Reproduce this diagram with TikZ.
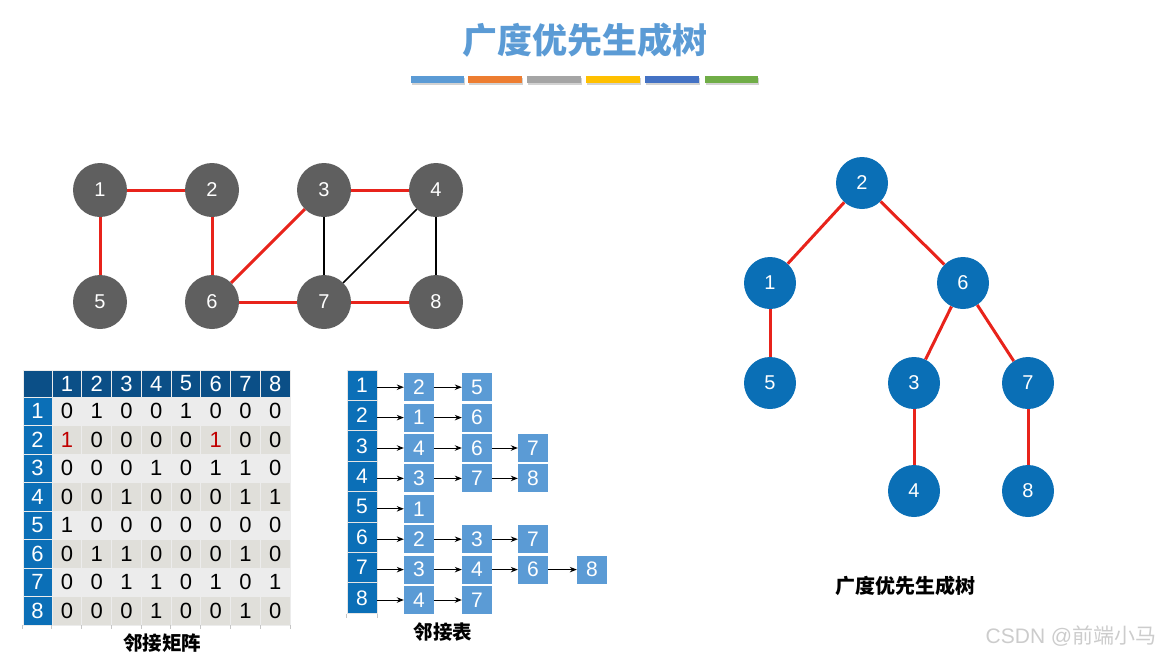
\documentclass[tikz,border=0pt]{standalone}
\usepackage{fontspec}
\setmainfont{Liberation Sans}
\newfontfamily\cjk{Noto Sans CJK SC}
\usetikzlibrary{arrows.meta,positioning}
\definecolor{gnode}{HTML}{5F5F5F}
\definecolor{tnode}{HTML}{0A6FB6}
\definecolor{redge}{HTML}{E8231B}
\definecolor{titleblue}{HTML}{5B9BD5}
\definecolor{hdrblue}{HTML}{0B4F87}
\definecolor{colblue}{HTML}{0B6FB7}
\definecolor{listblue}{HTML}{5B9BD5}
\definecolor{rowa}{HTML}{ECECEC}
\definecolor{rowb}{HTML}{E0DFDA}
\definecolor{hlred}{HTML}{C00000}
\newcommand\hl[1]{\textcolor{hlred}{#1}}

\begin{document}
\begin{tikzpicture}[x=1pt,y=-1pt,
  gv/.style={circle,fill=gnode,text=white,minimum size=54pt,inner sep=0pt,
             font=\fontsize{20}{20}\selectfont},
  tv/.style={circle,fill=tnode,text=white,minimum size=52pt,inner sep=0pt,
             font=\fontsize{20}{20}\selectfont},
  redline/.style={draw=redge,line width=3pt},
  blkline/.style={draw=black,line width=1.5pt},
  cell/.style={draw=white!85!gray,line width=0.8pt,minimum width=29.75pt,
               minimum height=28.5pt,inner sep=0pt,font=\fontsize{22}{22}\selectfont},
  hcell/.style={cell,fill=hdrblue,text=white,minimum height=27pt},
  lcell/.style={cell,fill=colblue,text=white,minimum width=29pt},
  headbox/.style={draw=white!80!gray,line width=0.8pt,fill=colblue,text=white,
               minimum width=30pt,minimum height=30.4pt,inner sep=0pt,
               font=\fontsize{21}{21}\selectfont},
  itembox/.style={fill=listblue,text=white,minimum width=30pt,minimum height=28pt,
               inner sep=0pt,font=\fontsize{21}{21}\selectfont},
  arr/.style={-{Stealth[length=7pt,width=5.5pt]},line width=1pt,black},
  tick/.style={draw=gray!45,line width=0.6pt},
  caption/.style={font=\cjk\bfseries\fontsize{19.5}{19.5}\selectfont}]
\useasboundingbox (0,0) rectangle (1162,656);

% title and colour bars
\node[font=\cjk\bfseries\fontsize{35}{35}\selectfont,text=titleblue] (title) at (585,40) {广度优先生成树};
\foreach \xa/\xb/\col in {411/464/5B9BD5,468/522/ED7D31,527/581/A5A5A5,
                          586/640/FFC000,645/699/4472C4,705/758/70AD47}{
  \fill[gray!35] (\xa+1,78) rectangle (\xb+1,85);
  \definecolor{barcol}{HTML}{\col}
  \fill[barcol] (\xa,76) rectangle (\xb,83);
}

% graph
\node[gv] (g1) at (100,190) {1};
\node[gv] (g2) at (212,190) {2};
\node[gv] (g3) at (324,190) {3};
\node[gv] (g4) at (436,190) {4};
\node[gv] (g5) at (100,302) {5};
\node[gv] (g6) at (212,302) {6};
\node[gv] (g7) at (324,302) {7};
\node[gv] (g8) at (436,302) {8};
\draw[redline] (g1)--(g2);
\draw[redline] (g1)--(g5);
\draw[redline] (g2)--(g6);
\draw[redline] (g3)--(g6);
\draw[redline] (g3)--(g4);
\draw[redline] (g6)--(g7);
\draw[redline] (g7)--(g8);
\draw[blkline] (g3)--(g7);
\draw[blkline] (g4)--(g7);
\draw[blkline] (g4)--(g8);

% adjacency matrix
\node[hcell,minimum width=29pt] (m-0-0) at (37.5,383.5) {};
\foreach \c in {1,...,8}
  \node[hcell] (m-0-\c) at (52+29.75*\c-14.875,383.5) {\c};
\foreach \r/\vals in {1/{0,1,0,0,1,0,0,0},2/{\hl1,0,0,0,0,\hl1,0,0},
                      3/{0,0,0,1,0,1,1,0},4/{0,0,1,0,0,0,1,1},
                      5/{1,0,0,0,0,0,0,0},6/{0,1,1,0,0,0,1,0},
                      7/{0,0,1,1,0,1,0,1},8/{0,0,0,1,0,0,1,0}}{
  \node[lcell] (m-\r-0) at (37.5,397+28.5*\r-14.25) {\r};
  \ifodd\r \def\rowfill{rowa}\else \def\rowfill{rowb}\fi
  \foreach \v [count=\c] in \vals
    \node[cell,fill=\rowfill] (m-\r-\c) at (52+29.75*\c-14.875,397+28.5*\r-14.25) {\v};
}
\foreach \c in {0,...,8}
  \draw[tick] (m-8-\c.south west)--++(0,4);
\draw[tick] (m-8-8.south east)--++(0,4);
\node[caption] (mcap) at (162,643) {邻接矩阵};

% adjacency list
\foreach \r in {1,...,8}
  \node[headbox] (h\r) at (362,370+30.4*\r-15.2) {\r};
\draw[tick] (h8.south west)--++(0,4);
\draw[tick] (h8.south east)--++(0,4);
\foreach \r/\lst in {1/{2,5},2/{1,6},3/{4,6,7},4/{3,7,8},
                     5/{1},6/{2,3,7},7/{3,4,6,8},8/{4,7}}{
  \foreach \v [count=\k] in \lst {
    \pgfmathsetmacro\xx{{0,419,477,533,592}[\k]}
    \node[itembox] (l-\r-\k) at (\xx,370+30.4*\r-13.2) {\v};
    \ifnum\k=1
      \draw[arr] (h\r.east|-l-\r-\k.west)--(l-\r-\k.west);
    \else
      \pgfmathtruncatemacro\kp{\k-1}
      \draw[arr] (l-\r-\kp.east)--(l-\r-\k.west);
    \fi
  }
}
\node[caption] (lcap) at (443,632) {邻接表};

% spanning tree
\node[tv] (t2) at (862,183) {2};
\node[tv] (t1) at (770,283) {1};
\node[tv] (t6) at (963,283) {6};
\node[tv] (t5) at (770,383) {5};
\node[tv] (t3) at (914,383) {3};
\node[tv] (t7) at (1028,383) {7};
\node[tv] (t4) at (914,491) {4};
\node[tv] (t8) at (1028,491) {8};
\draw[redline] (t2)--(t1);
\draw[redline] (t2)--(t6);
\draw[redline] (t1)--(t5);
\draw[redline] (t6)--(t3);
\draw[redline] (t6)--(t7);
\draw[redline] (t3)--(t4);
\draw[redline] (t7)--(t8);
\node[caption,font=\cjk\bfseries\fontsize{20}{20}\selectfont] (tcap) at (905,586) {广度优先生成树};

\node[font=\fontsize{21}{21}\selectfont,text=gray!40] (mark) at (1071,636) {CSDN @{\cjk 前端小马}};
\end{tikzpicture}
\end{document}
